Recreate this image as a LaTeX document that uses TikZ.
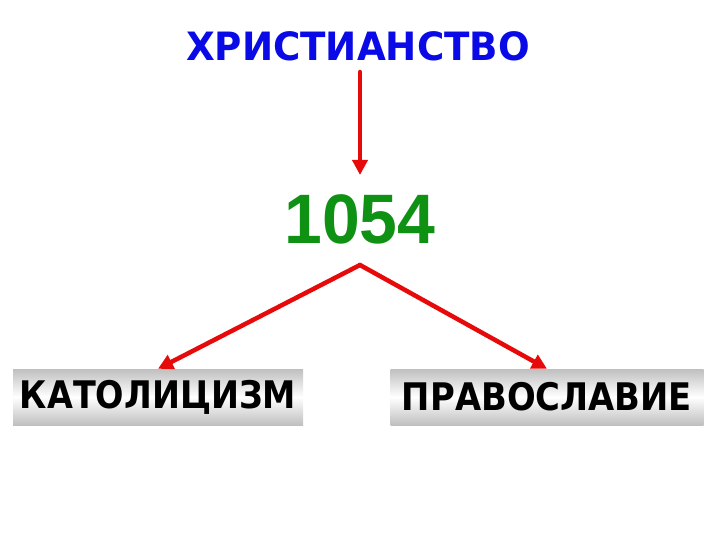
\documentclass[tikz,border=0pt]{standalone}
\usepackage{fontspec}
\setmainfont{DejaVu Sans}
\newfontfamily\numfont{Liberation Sans}
\usetikzlibrary{arrows.meta}
\definecolor{titleblue}{RGB}{10,10,230}
\definecolor{numgreen}{RGB}{15,145,20}
\definecolor{arrred}{RGB}{230,10,10}
\tikzset{
  conn/.style={draw=arrred, line width=4.5pt, line cap=round, -{Triangle[length=15pt,width=15pt]}},
  branch/.style={minimum width=#1, minimum height=56pt, inner sep=0pt,
    top color=gray!50, bottom color=gray!50, middle color=white, shading angle=0},
  lbl/.style={font=\fontsize{38}{40}\selectfont\bfseries, text=black}
}
\begin{document}
\begin{tikzpicture}[x=1pt,y=-1pt]
\useasboundingbox (0,0) rectangle (720,540);
\node[font=\fontsize{39}{42}\selectfont\bfseries, text=titleblue] (title) at (358,46) {\scalebox{0.955}[1]{ХРИСТИАНСТВО}};
\node[font=\numfont\fontsize{70}{74}\selectfont\bfseries, text=numgreen] (year) at (360,219) {\scalebox{0.97}[1]{1054}};
\node[branch=290pt] (cath) at (158,397) {};
\node[branch=313pt] (orth) at (547,397) {};
\node[lbl] (cathtxt) at (cath) {\scalebox{0.88}[1]{КАТОЛИЦИЗМ}};
\node[lbl] (orthtxt) at (orth) {\scalebox{0.89}[1]{ПРАВОСЛАВИЕ}};
\coordinate (top) at (360,72);
\coordinate (apex) at (360,265);
\draw[conn] (top) -- (360,175);
\draw[conn] (apex) -- (cath.north);
\draw[conn] (apex) -- (orth.north);
\end{tikzpicture}
\end{document}
